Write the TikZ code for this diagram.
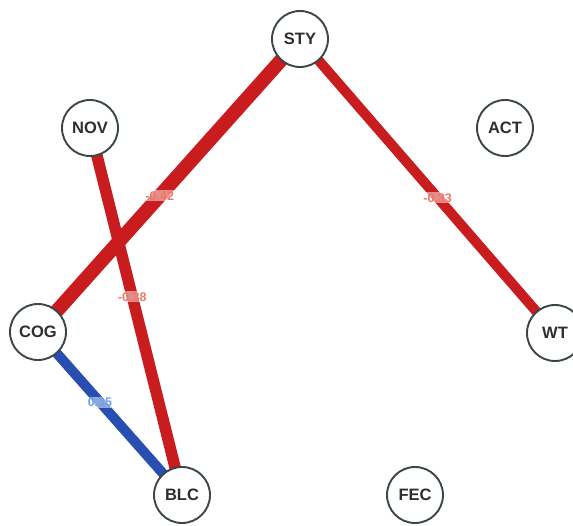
\documentclass[tikz,border=0pt]{standalone}
\usepackage{fontspec}
\setmainfont{Liberation Sans}
\usetikzlibrary{backgrounds}
\definecolor{negred}{RGB}{200,28,30}
\definecolor{posblue}{RGB}{40,78,178}
\definecolor{nodeline}{RGB}{58,70,74}
\definecolor{negtext}{RGB}{238,120,100}
\definecolor{postext}{RGB}{110,160,238}
\tikzset{
  var/.style={circle, draw=nodeline, line width=1.9pt, fill=white,
    minimum size=56pt, inner sep=0pt,
    font=\fontsize{16.5}{16.5}\selectfont\bfseries, text=black!82},
  negedge/.style={draw=negred, line cap=butt},
  posedge/.style={draw=posblue, line cap=butt},
  wlabel/.style={font=\fontsize{12.5}{12.5}\selectfont\bfseries, inner sep=1pt,
    fill=white, fill opacity=0.5, text opacity=1},
}
\begin{document}
\begin{tikzpicture}[x=1pt, y=-1pt]
  \useasboundingbox (0,0) rectangle (573,525);
  % variables on a circle
  \node[var] (STY) at (300,39)  {STY};
  \node[var] (NOV) at (90,128)  {NOV};
  \node[var] (ACT) at (505,128) {ACT};
  \node[var] (COG) at (38,332)  {COG};
  \node[var] (WT)  at (555,333) {WT};
  \node[var] (BLC) at (182,495) {BLC};
  \node[var] (FEC) at (415,495) {FEC};
  % weighted edges behind the nodes
  \begin{pgfonlayer}{background}
    \draw[negedge, line width=14pt] (STY.center) -- (COG.center)
      node[wlabel, text=negtext, pos=0.535] {-0.42};
    \draw[negedge, line width=10pt] (STY.center) -- (WT.center)
      node[wlabel, text=negtext, pos=0.54] {-0.33};
    \draw[negedge, line width=11.5pt] (NOV.center) -- (BLC.center)
      node[wlabel, text=negtext, pos=0.46] {-0.38};
    \draw[posedge, line width=10pt] (COG.center) -- (BLC.center)
      node[wlabel, text=postext, pos=0.43] {0.35};
  \end{pgfonlayer}
\end{tikzpicture}
\end{document}
